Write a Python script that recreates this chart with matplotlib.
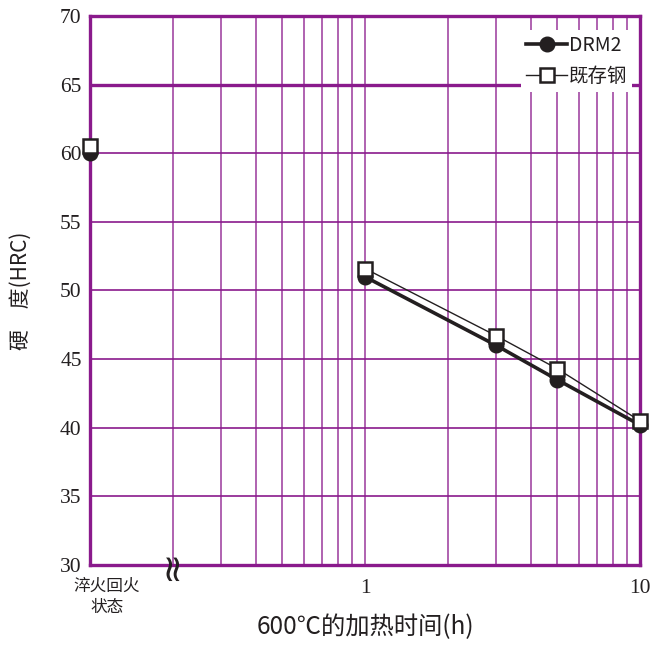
import matplotlib
matplotlib.use("Agg")
import matplotlib.pyplot as plt

# heating time at 600C (h); 0.1 stands in for the "as quenched & tempered" state
hours = [0.1, 1, 3, 5, 10]
drm2 = [60.0, 51.0, 46.0, 43.5, 40.2]
existing = [60.5, 51.6, 46.7, 44.3, 40.5]
series_names = ["DRM2", "既存钢"]
x_tick_vals = [0.1, 1, 10]
x_tick_labels = ["", "1", "10"]
start_label = "淬火回火\n状态"
y_ticks = [30, 35, 40, 45, 50, 55, 60, 65, 70]

purple = "#8a1a8c"
ink = "#231f20"
fams = ["Liberation Serif", "Noto Sans CJK SC"]
cjk = ["Noto Sans CJK SC", "DejaVu Sans"]

fig = plt.figure(figsize=(6.54, 6.45), dpi=100)
ax = fig.add_axes([90 / 654, 1 - 565 / 645, 550 / 654, 549 / 645])

ax.set_xscale("log")
ax.set_xlim(0.1, 10)
ax.set_ylim(30, 70)

# grid
minor = [m * d for d in (0.1, 1) for m in range(2, 10)]
ax.set_xticks(x_tick_vals)
ax.set_xticks(minor, minor=True)
ax.set_xticklabels(x_tick_labels)
ax.set_yticks(y_ticks)
ax.tick_params(which="both", length=0)
ax.tick_params(axis="x", which="minor", labelbottom=False)
for lab in ax.get_xticklabels() + ax.get_yticklabels():
    lab.set_family(fams)
    lab.set_fontsize(15.5)
    lab.set_color(ink)
ax.tick_params(axis="x", pad=10)
ax.tick_params(axis="y", pad=6)

ax.annotate(start_label, xy=(hours[0], 30), xytext=(17, -13),
            textcoords="offset pixels", ha="center", va="top", fontsize=12,
            family=cjk, color=ink, linespacing=1.3, annotation_clip=False)

ax.grid(True, which="both", axis="x", color=purple, lw=1.2, alpha=0.8)
ax.grid(True, which="major", axis="y", color=purple, lw=1.2)
ax.axhline(65, color=purple, lw=2.4, zorder=1)
for s in ax.spines.values():
    s.set_color(purple)
    s.set_linewidth(2.4)
ax.set_axisbelow(True)

ax.plot(hours[1:], drm2[1:], color=ink, lw=2.6, marker="o", ms=10.5,
        mfc=ink, mec=ink, label=series_names[0], clip_on=False, zorder=3)
ax.plot(hours[:1], drm2[:1], ls="none", marker="o", ms=10.5, color=ink,
        clip_on=False, zorder=3)
ax.plot(hours[1:], existing[1:], color=ink, lw=1.0, marker="s", ms=10,
        mfc="white", mec=ink, mew=1.8, label=series_names[1], clip_on=False,
        zorder=4)
ax.plot(hours[:1], existing[:1], ls="none", marker="s", ms=10, mfc="white",
        mec=ink, mew=1.8, clip_on=False, zorder=4)

leg = ax.legend(loc="upper right", bbox_to_anchor=(0.986, 0.975), frameon=True,
                facecolor="white", edgecolor="none", framealpha=1, fancybox=False,
                handlelength=2.1, handletextpad=0.1, borderpad=0.25,
                labelspacing=0.55, borderaxespad=0.0, prop={"family": cjk, "size": 14})
leg.set_zorder(5)
for t in leg.get_texts():
    t.set_color(ink)

# axis break mark on the bottom axis
ax.text(0.2, 30, "≈", rotation=90, ha="center", va="center", fontsize=27,
        color=ink, family="DejaVu Sans", clip_on=False, zorder=6)

ax.set_ylabel("硬　度(HRC)", family=cjk, fontsize=15, color=ink, labelpad=20)
ax.set_xlabel("600℃的加热时间(h)", family=cjk, fontsize=17.5, color=ink,
              labelpad=12)

fig.savefig("out.png", dpi=100)
